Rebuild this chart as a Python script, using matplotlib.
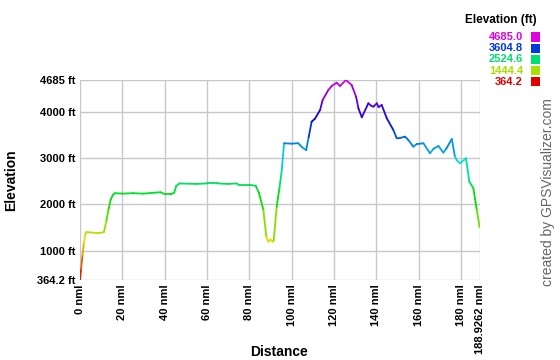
import numpy as np
import matplotlib.pyplot as plt
from matplotlib.collections import LineCollection
from matplotlib.colors import hsv_to_rgb

plt.rcParams['font.family'] = ['Liberation Sans', 'DejaVu Sans']

# traced profile: distance (nml) and elevation (ft)
dist = [0, 0.5, 1.2, 1.8, 2.5, 3.0, 5, 8, 10, 11.3, 12.5, 13.5, 14.5, 15.5, 16.5,
        20, 25, 30, 35, 38, 40, 43, 44.5, 45.5, 47, 55, 60, 65, 70, 74, 75, 80, 83,
        84.5, 86.6, 88, 89, 90, 91, 91.5, 92.9, 94.2, 95.3, 96.4, 100, 103, 105, 106.8,
        108, 109.4, 111, 113.4, 114.6, 117.3, 119, 121.3, 122.8, 125.6, 128.3,
        130.4, 131.5, 133.1, 136.2, 137.5, 138.6, 140.2, 141, 142.5, 144.9, 148,
        149.6, 151, 153.5, 155.1, 157.4, 159, 162.2, 165.3, 167, 169.3, 171.6, 173,
        175.6, 177.1, 178, 179.5, 182.3, 183.9, 185.8, 187.4, 188.7, 188.9262]
elev = [364.2, 600, 900, 1150, 1350, 1400, 1390, 1380, 1385, 1400, 1650, 1900, 2100,
        2200, 2240, 2230, 2240, 2230, 2250, 2260, 2220, 2220, 2250, 2400, 2450, 2440,
        2450, 2450, 2440, 2450, 2420, 2420, 2400, 2250, 1880, 1300, 1190, 1240, 1190,
        1220, 1950, 2350, 2740, 3318, 3310, 3320, 3230, 3170, 3450, 3784, 3850, 4037, 4253,
        4469, 4560, 4627, 4555, 4685, 4577, 4325, 4074, 3879, 4182, 4130, 4109, 4182,
        4100, 4145, 3858, 3605, 3426, 3430, 3461, 3389, 3245, 3300, 3318, 3102, 3200,
        3259, 3117, 3200, 3411, 3029, 2950, 2885, 2994, 2489, 2346, 1877, 1516, 1500]

e_min, e_max = 364.2, 4685.0
x_max = 188.9262
yticks = [364.2, 1000, 2000, 3000, 4000, 4685]
ytick_labels = ['364.2 ft', '1000 ft', '2000 ft', '3000 ft', '4000 ft', '4685 ft']
xticks = [0, 20, 40, 60, 80, 100, 120, 140, 160, 180, x_max]
xtick_labels = ['%d nml' % t for t in xticks[:-1]] + ['188.9262 nml']
legend_vals = [4685.0, 3604.8, 2524.6, 1444.4, 364.2]


def elev_color(e):
    frac = np.clip((np.asarray(e) - e_min) / (e_max - e_min), 0, 1)
    hsv = np.stack([frac * 300 / 360, np.ones_like(frac), np.full_like(frac, 0.88)], axis=-1)
    return hsv_to_rgb(hsv)


fig = plt.figure(figsize=(5.6, 3.6), dpi=100)
ax = fig.add_axes([80 / 560, 1 - 280 / 360, 400 / 560, 200 / 360])

x = np.array(dist)
y = np.array(elev)
segs = np.stack([np.column_stack([x[:-1], y[:-1]]), np.column_stack([x[1:], y[1:]])], axis=1)
lc = LineCollection(segs, colors=elev_color((y[:-1] + y[1:]) / 2), linewidths=1.3,
                    capstyle='round', joinstyle='round')
ax.add_collection(lc)

ax.set_xlim(0, x_max)
ax.set_ylim(e_min, e_max)
for s in ax.spines.values():
    s.set_visible(False)
ax.set_yticks(yticks)
ax.set_yticklabels(ytick_labels, fontsize=8, fontweight='bold')
ax.set_xticks(xticks)
ax.set_xticklabels(xtick_labels, fontsize=8, fontweight='bold', rotation=90)
ax.tick_params(length=0, pad=3)
ax.grid(True, color='#c8c8c8', linewidth=1)
ax.set_axisbelow(True)

ax.set_ylabel('Elevation', fontsize=10, fontweight='bold')
ax.yaxis.set_label_coords(-0.155, 0.5)
ax.set_xlabel('Distance', fontsize=10, fontweight='bold')
ax.xaxis.set_label_coords(0.4975, -0.325)

# legend
fig.text(537 / 560, 1 - 20 / 360, 'Elevation (ft)', fontsize=8.5, fontweight='bold',
         ha='right', va='center')
for i, v in enumerate(legend_vals):
    yy = 1 - (37 + i * 11.2) / 360
    c = elev_color(v)
    fig.text(523 / 560, yy, '%.1f' % v, fontsize=8, fontweight='bold', color=c,
             ha='right', va='center')
    fig.patches.append(plt.Rectangle((531 / 560, yy - 4.5 / 360), 9 / 560, 9 / 360,
                                     transform=fig.transFigure, facecolor=c,
                                     edgecolor='none'))

fig.text(548 / 560, 1 - 192 / 360, 'created by GPSVisualizer.com', fontsize=10,
         color='#666666', rotation=90, ha='center', va='center')

plt.savefig('out.png', dpi=100)
plt.close()
